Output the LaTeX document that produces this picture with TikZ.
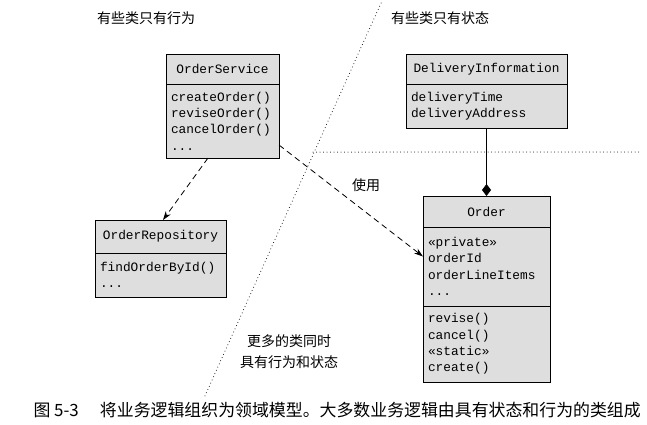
\documentclass[tikz,border=0pt]{standalone}
\usepackage{fontspec}
\setmonofont{Liberation Mono}
\newfontfamily\cjk{Noto Sans CJK SC}
\usepackage{tikz}
\usetikzlibrary{positioning,arrows.meta}

\begin{document}
\begin{tikzpicture}[x=1pt, y=-1pt,
    clshead/.style={rectangle, draw=black, line width=0.8pt, fill=black!13, outer sep=0pt, inner sep=0pt, minimum height=30pt, font=\fontsize{12.8}{16.3}\selectfont\ttfamily},
    clsbody/.style={rectangle, draw=black, line width=0.8pt, fill=black!13, outer sep=0pt, inner xsep=5pt, inner ysep=0pt, align=left, font=\fontsize{12.8}{16.3}\selectfont\ttfamily},
    note/.style={font=\fontsize{14}{21}\selectfont\cjk, align=center},
    uses/.style={line width=0.8pt, dash pattern=on 6pt off 4pt, -{Stealth[length=9pt, width=6pt]}},
    split/.style={line width=1pt, line cap=round, dash pattern=on 0pt off 3.5pt}]
            \useasboundingbox (0,0) rectangle (647,424);
            % dividing lines
            \coordinate (splittop) at (381,3);
            \coordinate (splitbot) at (204,398);
            \draw [split] (splittop) -- (splitbot);
            \coordinate (splitleft) at (313,152);
            \coordinate (splitright) at (640,152);
            \draw [split] (splitleft) -- (splitright);
            % classes
            \node [clshead, anchor=north west, minimum width=113pt] (svc) at (166,54) {OrderService};
            \node [clsbody, below=0pt of svc, text width=103pt, minimum height=74pt] (svcops) {createOrder()\\reviseOrder()\\cancelOrder()\\...};
            \node [clshead, anchor=north west, minimum width=161pt] (dinfo) at (406,54) {DeliveryInformation};
            \node [clsbody, below=0pt of dinfo, text width=151pt, minimum height=44pt] (dinfoattr) {deliveryTime\\deliveryAddress};
            \node [clshead, anchor=north west, minimum width=131pt, minimum height=33pt] (repo) at (95,220) {OrderRepository};
            \node [clsbody, below=0pt of repo, text width=121pt, minimum height=44pt] (repoops) {findOrderById()\\...};
            \node [clshead, anchor=north west, minimum width=127pt, minimum height=31pt] (ord) at (423,196) {Order};
            \node [clsbody, below=0pt of ord, text width=117pt, minimum height=79pt] (ordattr) {«private»\\orderId\\orderLineItems\\...};
            \node [clsbody, below=0pt of ordattr, text width=117pt, minimum height=76pt] (ordops) {revise()\\cancel()\\«static»\\create()};
            % connectors
            \draw [uses] ([xshift=-14.5pt]svcops.south) -- ([xshift=2.5pt]repo.north);
            \draw [uses] ([yshift=13pt]svcops.south east) -- ([yshift=10pt]ordattr.west);
            \draw [line width=0.8pt, -{Diamond[length=12pt, width=9pt]}] (dinfoattr.south) -- (ord.north);
            % labels
            \node [note] (behav) at (146,18) {有些类只有行为};
            \node [note] (state) at (440,18) {有些类只有状态};
            \node [note] (usage) at (366,185) {使用};
            \node [note] (both) at (289,352) {更多的类同时\\具有行为和状态};
            \node [anchor=west, font=\fontsize{16.9}{18}\selectfont\cjk] (caption) at (30,410) {图 5-3\hspace{1.25em}将业务逻辑组织为领域模型。大多数业务逻辑由具有状态和行为的类组成};
        \end{tikzpicture}
\end{document}
